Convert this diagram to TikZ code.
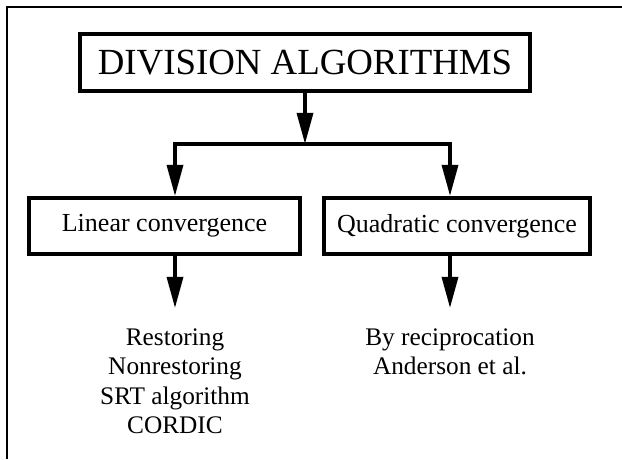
\documentclass[tikz,border=0pt]{standalone}
\usepackage{fontspec}
\setmainfont{Liberation Serif}
\usetikzlibrary{arrows.meta}
\begin{document}
\begin{tikzpicture}
    \useasboundingbox (0,0) rectangle (15.55,-11.475);
    \tikzstyle{boite}=[draw,line width=0.1cm,inner sep=0pt]
    \tikzstyle{fleche}=[line width=0.09cm,-{Triangle[length=0.78cm,width=0.4cm]}]
    \tikzstyle{liste}=[anchor=north,inner sep=0pt,align=center,font=\fontsize{18}{21}\selectfont]

    %%%%%%%%%%%%%%%%%%%%%%%%%%%%%%%%%%%%%% Cadre
    \draw[line width=0.05cm] (0.175,-11.475)--(0.175,-0.175)--(15.55,-0.175);

    %%%%%%%%%%%%%%%%%%%%%%%%%%%%%%%%%%%%%% Boites
    \node[boite,minimum width=11.25cm,minimum height=1.425cm,font=\fontsize{26.2}{30}\selectfont] (titre) at (7.625,-1.5625) {DIVISION ALGORITHMS};
    \node[boite,minimum width=6.775cm,minimum height=1.4cm,font=\fontsize{18.5}{22}\selectfont] (lin) at (4.1125,-5.65) {Linear convergence};
    \node[boite,minimum width=6.65cm,minimum height=1.4cm,font=\fontsize{18.5}{22}\selectfont] (quad) at (11.425,-5.65) {Quadratic convergence};

    %%%%%%%%%%%%%%%%%%%%%%%%%%%%%%%%%%%%%% Fleches
    \coordinate (split) at (7.625,-3.6);
    \coordinate (bl) at (4.375,-3.6);
    \coordinate (br) at (11.25,-3.6);
    \coordinate (fl) at (4.375,-7.7);
    \coordinate (fr) at (11.25,-7.7);

    \draw[fleche] (titre.south)--(split);
    \draw[fleche] (split)--(bl)--(bl |- lin.north);
    \draw[fleche] (split)--(br)--(br |- quad.north);
    \draw[fleche] (lin.south -| fl)--(fl);
    \draw[fleche] (quad.south -| fr)--(fr);

    %%%%%%%%%%%%%%%%%%%%%%%%%%%%%%%%%%%%%% Listes
    \node[liste] (listeL) at (4.375,-8.2) {Restoring\\Nonrestoring\\SRT algorithm\\CORDIC};
    \node[liste] (listeR) at (11.25,-8.2) {By reciprocation\\Anderson et al.};
\end{tikzpicture}
\end{document}
